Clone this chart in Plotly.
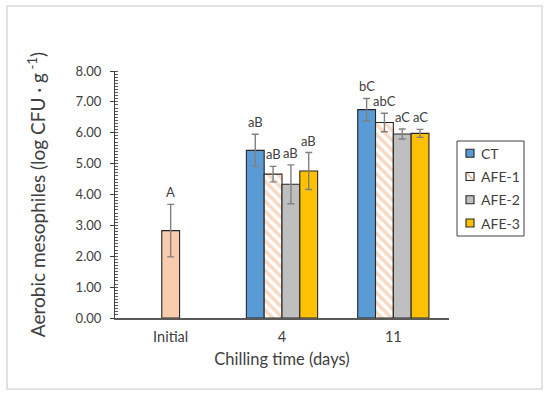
import plotly.graph_objects as go

categories = ["Initial", "4", "11"]
days = ["4", "11"]
series_names = ["CT", "AFE-1", "AFE-2", "AFE-3"]
series_colors = ["#5B9BD5", "#FFFFFF", "#BFBFBF", "#FFC000"]

initial_mean = [2.83]
initial_sd = [0.85]
initial_label = ["A"]

ct_mean = [5.43, 6.75]
ct_sd = [0.52, 0.36]
ct_label = ["aB", "bC"]

afe1_mean = [4.66, 6.33]
afe1_sd = [0.25, 0.30]
afe1_label = ["aB", "abC"]

afe2_mean = [4.33, 5.96]
afe2_sd = [0.63, 0.16]
afe2_label = ["aB", "aC"]

afe3_mean = [4.76, 5.98]
afe3_sd = [0.60, 0.13]
afe3_label = ["aB", "aC"]

y_ticks = [0, 1, 2, 3, 4, 5, 6, 7, 8]

FONT = "Lato, 'Open Sans', sans-serif"
TXT = "#404040"
EDGE = "#262626"
HATCH = "#F4B183"
BAR_W = 0.16

W, H = 550, 395
ML, MR, MT, MB = 115, 101, 71, 77
PW, PH = W - ML - MR, H - MT - MB


def px_x(x):
    return (x - ML) / PW


def px_y(y):
    return (H - MB - y) / PH


fig = go.Figure()
annotations = []
shapes = []


def add_series(name, x, mean, sd, labels, offset, color, pattern=None):
    marker = dict(color=color, line=dict(color=EDGE, width=1.1))
    if pattern:
        marker["pattern"] = pattern
    fig.add_trace(go.Bar(
        name=name, x=x, y=mean, offset=offset, width=BAR_W,
        marker=marker, showlegend=False,
        error_y=dict(type="data", array=sd, visible=True, color="#808080",
                     thickness=1.4, width=3.5),
    ))
    for xi, m, s, lab in zip(x, mean, sd, labels):
        idx = categories.index(xi)
        annotations.append(dict(
            x=idx + offset + BAR_W / 2, y=m + s, xref="x", yref="y",
            text=lab, showarrow=False, yanchor="bottom", yshift=2,
            font=dict(family=FONT, size=13, color=TXT),
        ))


hatch = dict(shape="\\", fgcolor=HATCH, bgcolor="#FFFFFF",
             size=7, solidity=0.5, fillmode="overlay")

add_series("CT", days, ct_mean, ct_sd, ct_label, -0.32, series_colors[0])
add_series("AFE-1", days, afe1_mean, afe1_sd, afe1_label, -0.16, series_colors[1], pattern=hatch)
add_series("AFE-2", days, afe2_mean, afe2_sd, afe2_label, 0.0, series_colors[2])
add_series("AFE-3", days, afe3_mean, afe3_sd, afe3_label, 0.16, series_colors[3])
add_series("Initial", ["Initial"], initial_mean, initial_sd, initial_label, -0.08, "#F8CBAD")

# outer frame
shapes.append(dict(
    type="rect", xref="paper", yref="paper",
    x0=px_x(7), x1=px_x(542), y0=px_y(389), y1=px_y(6),
    line=dict(color="#D9D9D9", width=1.5), fillcolor="rgba(0,0,0,0)", layer="below",
))

# legend (drawn manually to match the compact Excel legend box)
shapes.append(dict(
    type="rect", xref="paper", yref="paper",
    x0=px_x(457), x1=px_x(524), y0=px_y(236), y1=px_y(141),
    line=dict(color="#404040", width=1), fillcolor="white",
))
leg_rows = [153.3, 176.5, 199.7, 223.0]
for name, color, yc in zip(series_names, series_colors, leg_rows):
    shapes.append(dict(
        type="rect", xref="paper", yref="paper",
        x0=px_x(466), x1=px_x(474), y0=px_y(yc + 4), y1=px_y(yc - 4),
        line=dict(color=EDGE, width=1.1), fillcolor=color,
    ))
    if name == "AFE-1":
        shapes.append(dict(
            type="line", xref="paper", yref="paper",
            x0=px_x(467), x1=px_x(473), y0=px_y(yc - 3), y1=px_y(yc + 3),
            line=dict(color=HATCH, width=1.5),
        ))
    annotations.append(dict(
        x=px_x(478.5), y=px_y(yc), xref="paper", yref="paper",
        text=name, showarrow=False, xanchor="left", yanchor="middle",
        font=dict(family=FONT, size=14, color=TXT),
    ))

fig.update_layout(
    width=W, height=H,
    margin=dict(l=ML, r=MR, t=MT, b=MB, autoexpand=False),
    barmode="overlay",
    paper_bgcolor="white", plot_bgcolor="white",
    font=dict(family=FONT, color=TXT),
    annotations=annotations,
    shapes=shapes,
    showlegend=False,
)

fig.update_xaxes(
    type="category", categoryorder="array", categoryarray=categories,
    range=[-0.5, 2.5], automargin=False,
    showline=True, linecolor="#595959", linewidth=1.5,
    ticks="", showgrid=False, zeroline=False, ticklabelstandoff=5,
    tickfont=dict(family=FONT, size=14.5, color=TXT),
    title=dict(text="Chilling time (days)", standoff=9,
               font=dict(family=FONT, size=16.5, color=TXT)),
)

fig.update_yaxes(
    range=[0, 8], tickvals=y_ticks, tickformat=".2f", automargin=False,
    showline=True, linecolor="#404040", linewidth=1.2,
    ticks="outside", ticklen=4, tickcolor="#404040", ticklabelstandoff=6,
    minor=dict(ticks="inside", ticklen=3, dtick=0.1, tickcolor="#595959", showgrid=False),
    showgrid=False, zeroline=False,
    tickfont=dict(family=FONT, size=13, color=TXT),
    title=dict(text="Aerobic mesophiles (log CFU · g<sup> -1</sup>)", standoff=24,
               font=dict(family=FONT, size=19, color=TXT)),
)

fig.write_html("out.html", config={"displayModeBar": False},
               post_script="document.body.style.margin='0px';")
